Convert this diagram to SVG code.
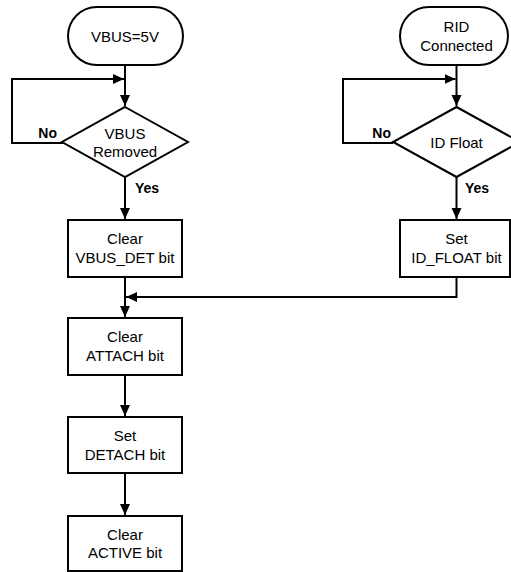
<svg xmlns="http://www.w3.org/2000/svg" width="511" height="572" viewBox="0 0 511 572">
<style>
.s{fill:#fff;stroke:#000;stroke-width:2}
.c{fill:none;stroke:#000;stroke-width:2}
.t{font-family:"Liberation Sans",Arial,sans-serif;font-size:15px;text-anchor:middle;fill:#000}
.b{font-family:"Liberation Sans",Arial,sans-serif;font-size:14px;font-weight:bold;fill:#000}
</style>
<defs>
<marker id="ah" markerUnits="userSpaceOnUse" markerWidth="12" markerHeight="12" viewBox="0 0 12 12" refX="11" refY="6" orient="auto">
<path d="M0,1 L11,6 L0,11 Z" fill="#000"/>
</marker>
</defs>
<rect width="511" height="572" fill="#fff"/>
<g id="connectors">
<path class="c" d="M125,65 V106" marker-end="url(#ah)"/>
<path class="c" d="M63,143 H12 V79 H124" marker-end="url(#ah)"/>
<path class="c" d="M125,177 V219" marker-end="url(#ah)"/>
<path class="c" d="M456.5,65 V106" marker-end="url(#ah)"/>
<path class="c" d="M393,143 H343 V79 H455.5" marker-end="url(#ah)"/>
<path class="c" d="M456.5,177 V219" marker-end="url(#ah)"/>
<path class="c" d="M125,277 V317" marker-end="url(#ah)"/>
<path class="c" d="M456.5,277 V297 H126" marker-end="url(#ah)"/>
<path class="c" d="M125,375 V416" marker-end="url(#ah)"/>
<path class="c" d="M125,473 V515" marker-end="url(#ah)"/>
</g>
<g id="vbus5v">
<rect class="s" x="68" y="7" width="115" height="58" rx="29" ry="29"/>
<text class="t" x="125" y="42">VBUS=5V</text>
</g>
<g id="vbusRemoved">
<path class="s" d="M125,107 L188,142 L125,177 L62,142 Z"/>
<text class="t" x="125" y="139">VBUS</text>
<text class="t" x="125" y="157">Removed</text>
<text class="b" x="57" y="138" text-anchor="end">No</text>
<text class="b" x="135" y="193">Yes</text>
</g>
<g id="clearVbusDet">
<rect class="s" x="68" y="220" width="114" height="57"/>
<text class="t" x="125" y="244">Clear</text>
<text class="t" x="125" y="263">VBUS_DET bit</text>
</g>
<g id="ridConnected">
<rect class="s" x="400" y="7" width="108" height="58" rx="29" ry="29"/>
<text class="t" x="456.5" y="32">RID</text>
<text class="t" x="456.5" y="51">Connected</text>
</g>
<g id="idFloat">
<path class="s" d="M456.5,107 L520,142 L456.5,177 L393,142 Z"/>
<text class="t" x="456.5" y="148">ID Float</text>
<text class="b" x="391" y="138" text-anchor="end">No</text>
<text class="b" x="465" y="193">Yes</text>
</g>
<g id="setIdFloat">
<rect class="s" x="400" y="220" width="110" height="57"/>
<text class="t" x="456.5" y="244">Set</text>
<text class="t" x="456.5" y="263">ID_FLOAT bit</text>
</g>
<g id="clearAttach">
<rect class="s" x="68" y="318" width="114" height="57"/>
<text class="t" x="125" y="342">Clear</text>
<text class="t" x="125" y="361">ATTACH bit</text>
</g>
<g id="setDetach">
<rect class="s" x="68" y="417" width="114" height="56"/>
<text class="t" x="125" y="441">Set</text>
<text class="t" x="125" y="460">DETACH bit</text>
</g>
<g id="clearActive">
<rect class="s" x="68" y="516" width="114" height="55"/>
<text class="t" x="125" y="540">Clear</text>
<text class="t" x="125" y="558">ACTIVE bit</text>
</g>
</svg>
